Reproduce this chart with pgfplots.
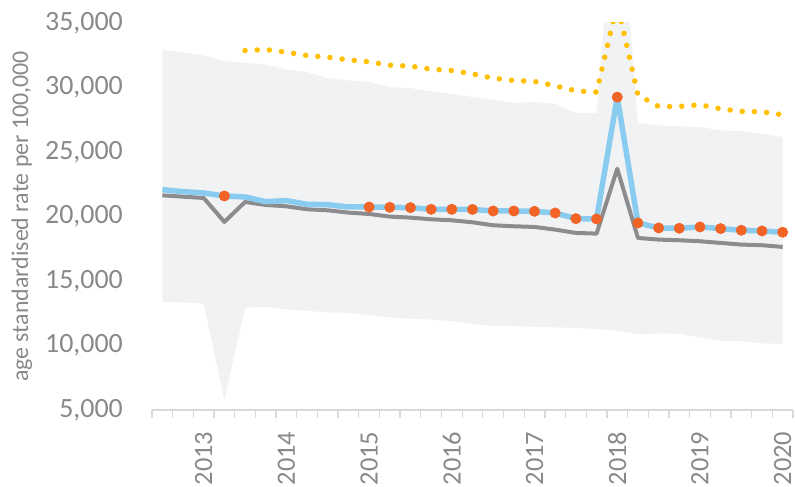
\documentclass[border=0pt]{standalone}
\usepackage{fontspec}
\setmainfont{Carlito}
\usepackage{pgfplots}
\pgfplotsset{compat=1.18}
\usepackage{pgfplotstable}
\usepgfplotslibrary{fillbetween}
\definecolor{bandc}{RGB}{241,242,244}
\definecolor{bluec}{RGB}{137,204,240}
\definecolor{orangec}{RGB}{242,100,38}
\definecolor{grayc}{RGB}{140,140,142}
\definecolor{yellowc}{RGB}{255,192,0}
\definecolor{textc}{RGB}{137,137,137}
\definecolor{axisc}{RGB}{217,217,217}

\pgfplotstableread{
i upper lower
0 32918 13383
1 32733 13335
2 32477 13258
3 32038 5774
4 31914 12920
5 31780 12998
6 31393 12792
7 31187 12688
8 30723 12560
9 30542 12534
10 30439 12353
11 30026 12173
12 29949 12069
13 29693 12018
14 29512 11889
15 29254 11656
16 29048 11527
17 28790 11502
18 28868 11450
19 28739 11398
20 28016 11372
21 28042 11269
22 48000 11140
23 27268 10857
24 27059 10934
25 26982 10908
26 26930 10624
27 26672 10366
28 26620 10340
29 26413 10159
30 26155 10134
}\bandtab

\pgfplotstableread{
i blue gray
0 22081 21641
1 21926 21538
2 21823 21435
3 21591 19580
4 21514 21126
5 21153 20894
6 21230 20790
7 20944 20557
8 20918 20480
9 20737 20300
10 20737 20197
11 20711 19990
12 20686 19913
13 20557 19783
14 20557 19706
15 20545 19551
16 20428 19319
17 20428 19242
18 20402 19190
19 20273 18983
20 19834 18725
21 19809 18673
22 29254 23705
23 19500 18338
24 19113 18209
25 19087 18158
26 19190 18081
27 19061 17952
28 18932 17823
29 18880 17772
30 18777 17643
}\linetab

\pgfplotstableread{
i dots
3 21591
10 20737
11 20711
12 20686
13 20557
14 20557
15 20545
16 20428
17 20428
18 20402
19 20273
20 19834
21 19809
22 29254
23 19500
24 19113
25 19087
26 19190
27 19061
28 18932
29 18880
30 18777
}\dottab

\pgfplotstableread{
i yel
4 32864
5 32941
6 32735
7 32477
8 32348
9 32142
10 31987
11 31729
12 31652
13 31420
14 31316
15 31058
16 30723
17 30542
18 30465
19 30129
20 29742
21 29640
22 36500
23 29433
24 28530
25 28530
26 28658
27 28350
28 28143
29 28117
30 27885
}\yeltab

\begin{document}
\begin{tikzpicture}
\begin{axis}[
  at={(152bp,77bp)}, anchor=south west,
  scale only axis, width=641bp, height=387bp,
  xmin=-0.5, xmax=30.5, ymin=5000, ymax=35000,
  axis lines*=left,
  y axis line style={draw=none},
  x axis line style={draw=axisc, line width=1.3bp, -},
  xtick={2,6,10,14,18,22,26,30},
  xticklabels={2013,2014,2015,2016,2017,2018,2019,2020},
  minor xtick={-0.5,0.5,...,30.5},
  ytick={5000,10000,...,35000},
  major tick length=0pt,
  minor tick length=8bp,
  tick align=outside,
  every tick/.style={draw=axisc, line width=1.3bp},
  /pgf/number format/assume math mode=true,
  /pgf/number format/1000 sep={,},
  scaled y ticks=false,
  tick label style={font=\fontsize{28}{28}\selectfont, text=textc},
  yticklabel style={anchor=east, inner sep=0pt},
  yticklabel shift=29bp,
  xticklabel style={rotate=90, anchor=east, inner sep=0pt, font=\fontsize{26.5}{26.5}\selectfont},
  xticklabel shift=21.5bp,
  ylabel={age standardised rate per 100,000},
  ylabel style={at={(axis description cs:-0.2028,0.5)}, rotate=0, anchor=center, font=\fontsize{24}{24}\selectfont, text=textc},
  clip=true,
]
\addplot[draw=none, name path=up] table[x=i, y=upper] {\bandtab};
\addplot[draw=none, name path=lo] table[x=i, y=lower] {\bandtab};
\addplot[fill=bandc, draw=none] fill between[of=up and lo];
\addplot[grayc, line width=4bp, line join=round] table[x=i, y=gray] {\linetab};
\addplot[bluec, line width=5.5bp, line join=round] table[x=i, y=blue] {\linetab};
\addplot[only marks, mark=*, mark size=5.2bp, draw=orangec, fill=orangec, mark options={solid, line width=0.5bp}] table[x=i, y=dots] {\dottab};
\addplot[yellowc, line width=5.5bp, line cap=round, dash pattern=on 0.01bp off 12.2bp] table[x=i, y=yel] {\yeltab};
\end{axis}
\pgfresetboundingbox
\useasboundingbox (0,0) rectangle (795bp,487bp);
\end{tikzpicture}
\end{document}
